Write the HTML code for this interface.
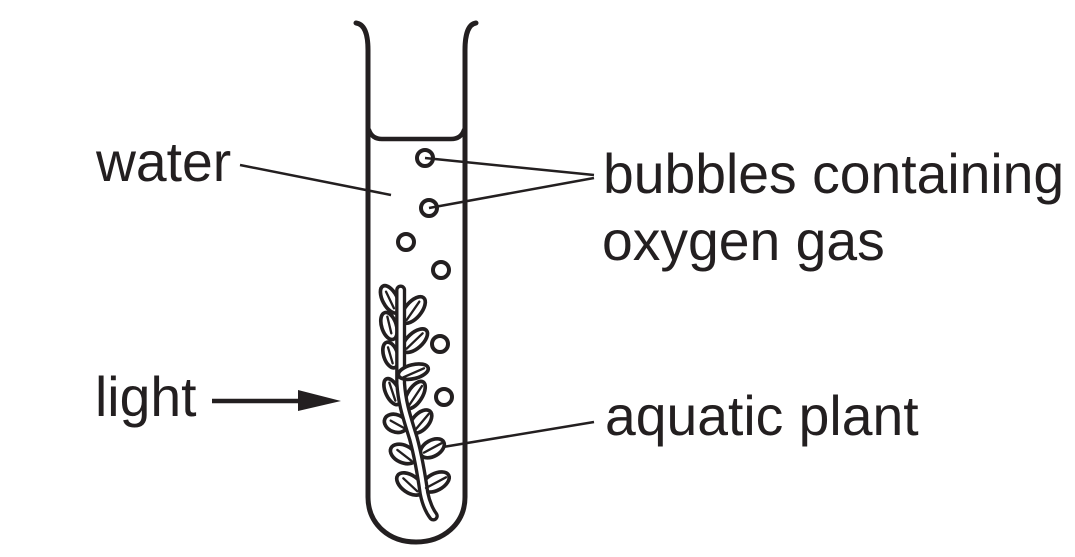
<!DOCTYPE html>
<html>
<head>
<meta charset="utf-8">
<style>
html,body{margin:0;padding:0;background:#fff;}
svg{display:block;}
text{font-family:"Liberation Sans",sans-serif;font-size:55.3px;fill:#231f20;}
</style>
</head>
<body>
<svg width="1075" height="557" viewBox="0 0 1075 557" xmlns="http://www.w3.org/2000/svg">
<g fill="none" stroke="#231f20" stroke-linecap="round">
  <path d="M356 23C364 24 368 33 368 50V497C368 524 389 542 416 542C443 542 465 524 465 497V50C465 33 469 24 476 23" stroke-width="5"/>
  <path d="M369 130C371 136 375 139 382 139H451C458 139 462 136 464 130" stroke-width="4.5"/>
  <g stroke-width="4">
    <circle cx="425" cy="158" r="8"/>
    <circle cx="429" cy="208" r="8"/>
    <circle cx="406" cy="242" r="8"/>
    <circle cx="441" cy="270" r="8"/>
    <circle cx="440" cy="344" r="8"/>
    <circle cx="444" cy="397" r="8"/>
  </g>
  <g stroke-width="2.5" stroke-linecap="butt">
    <path d="M240 165L391 195"/>
    <path d="M425 158L594 175"/>
    <path d="M429 208L594 178"/>
    <path d="M443 447L594 422"/>
  </g>
  <path d="M212 401H302" stroke-width="4.5" stroke-linecap="butt"/>
</g>
<path d="M298 390L341 401L298 411Z" fill="#231f20"/>

<g transform="translate(350 270) scale(0.3333)" stroke="#231f20" fill="#fff">
  <g stroke-width="11">
    <ellipse cx="120" cy="88" rx="45" ry="22" transform="rotate(62 120 88)"/>
    <ellipse cx="117" cy="168" rx="42" ry="22" transform="rotate(72 117 168)"/>
    <ellipse cx="122" cy="255" rx="40" ry="21" transform="rotate(72 122 255)"/>
    <ellipse cx="127" cy="365" rx="42" ry="20" transform="rotate(65 127 365)"/>
    <ellipse cx="137" cy="460" rx="35" ry="26" transform="rotate(22 137 460)"/>
    <ellipse cx="160" cy="552" rx="41" ry="26" transform="rotate(25 160 552)"/>
    <ellipse cx="180" cy="642" rx="45" ry="26" transform="rotate(35 180 642)"/>
    <ellipse cx="190" cy="120" rx="48" ry="24" transform="rotate(-50 190 120)"/>
    <ellipse cx="195" cy="212" rx="46" ry="23" transform="rotate(-42 195 212)"/>
    <ellipse cx="195" cy="375" rx="46" ry="22" transform="rotate(-58 195 375)"/>
    <ellipse cx="212" cy="455" rx="42" ry="24" transform="rotate(-48 212 455)"/>
    <ellipse cx="247" cy="535" rx="39" ry="24" transform="rotate(-30 247 535)"/>
    <ellipse cx="257" cy="636" rx="44" ry="25" transform="rotate(-28 257 636)"/>
  </g>
  <path d="M152 60V340C156 400 170 440 190 505C205 560 215 620 222 670C228 700 240 725 250 738" fill="none" stroke="#231f20" stroke-width="33" stroke-linecap="round" stroke-linejoin="round"/>
  <path d="M152 60V340C156 400 170 440 190 505C205 560 215 620 222 670C228 700 240 725 250 738" fill="none" stroke="#fff" stroke-width="13" stroke-linecap="round" stroke-linejoin="round"/>
  <ellipse cx="190" cy="305" rx="46" ry="21" transform="rotate(-14 190 305)" stroke-width="11"/>
  <g fill="none" stroke-width="7" stroke-linecap="round">
    <path d="M108 65L132 115"/>
    <path d="M112 140L124 190"/>
    <path d="M114 232L128 280"/>
    <path d="M118 338L136 392"/>
    <path d="M122 452L162 474"/>
    <path d="M142 540L184 572"/>
    <path d="M160 625L202 664"/>
    <path d="M170 150L208 95"/>
    <path d="M170 236L218 190"/>
    <path d="M160 322L222 295"/>
    <path d="M176 408L216 348"/>
    <path d="M194 482L236 432"/>
    <path d="M222 548L274 520"/>
    <path d="M228 654L288 622"/>
  </g>
</g>

<text x="96" y="181">water</text>
<text x="603" y="193">bubbles containing</text>
<text x="602" y="260">oxygen gas</text>
<text x="95" y="416">light</text>
<text x="605" y="435">aquatic plant</text>
</svg>
</body>
</html>
